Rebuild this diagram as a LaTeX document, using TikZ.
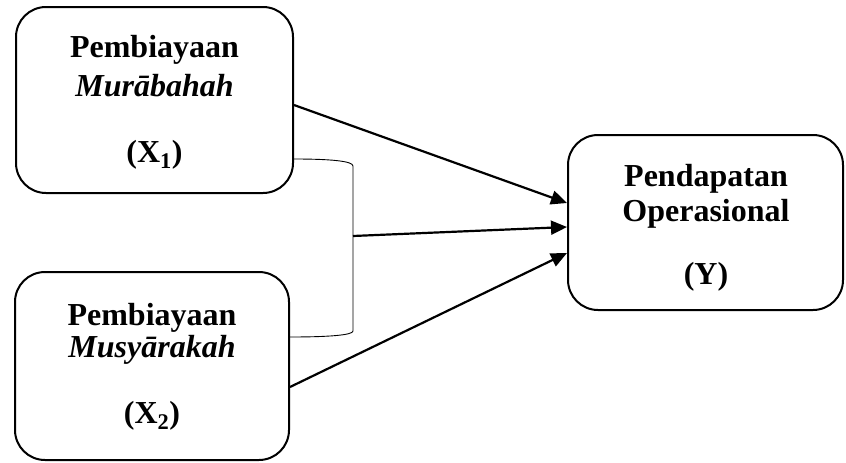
\documentclass[tikz,border=0pt]{standalone}
\usepackage{fontspec}
\setmainfont{Liberation Serif}
\usetikzlibrary{arrows.meta}
\begin{document}
\begin{tikzpicture}[x=1pt,y=-1pt,
  varbox/.style={draw=black,line width=2pt,rounded corners=30pt,inner sep=0pt},
  txt/.style={anchor=base,inner sep=0pt,font=\fontsize{32}{34}\selectfont\bfseries},
  arr/.style={line width=2.2pt,-{Triangle[length=16pt,width=14pt]}},
  brace/.style={line width=0.9pt}]
\useasboundingbox (0,0) rectangle (846,463);
\node[varbox,minimum width=277pt,minimum height=186pt] (x1) at (154.5,100) {};
\node[varbox,minimum width=274pt,minimum height=188pt] (x2) at (152,366) {};
\node[varbox,minimum width=275pt,minimum height=175pt] (y) at (705.5,222.5) {};
% texts
\node[txt] (x1a) at (154.5,57) {Pembiayaan};
\node[txt] (x1b) at (154.5,96) {\textit{Murābahah}};
\node[txt] (x1c) at (154.5,162) {(X\textsubscript{1})};
\node[txt] (x2a) at (152,325) {Pembiayaan};
\node[txt] (x2b) at (152,357) {\textit{Musyārakah}};
\node[txt] (x2c) at (152,423) {(X\textsubscript{2})};
\node[txt] (ya) at (706,186) {Pendapatan};
\node[txt] (yb) at (706,221) {Operasional};
\node[txt] (yc) at (706,284) {(Y)};
% helper coordinates
\coordinate (h1) at (0,105);
\coordinate (h2) at (0,159);
\coordinate (h3) at (0,337);
\coordinate (h4) at (0,387);
\coordinate (t1) at (0,203);
\coordinate (t2) at (0,227);
\coordinate (t3) at (0,253);
\coordinate (bm) at (353,236);
% bracket
\draw[brace] (x1.east |- h2) .. controls (330,159) and (353,161) .. (353,166)
  -- (353,331) .. controls (353,335) and (330,337) .. (x2.east |- h3);
% arrows
\draw[arr] (x1.east |- h1) -- (y.west |- t1);
\draw[arr] (bm) -- (y.west |- t2);
\draw[arr] (x2.east |- h4) -- (y.west |- t3);
\end{tikzpicture}
\end{document}
